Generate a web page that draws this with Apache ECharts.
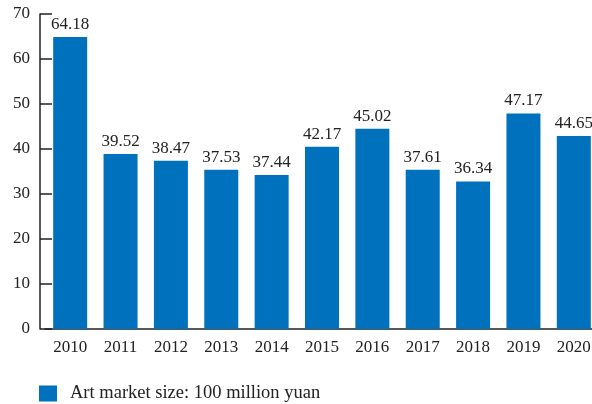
<!DOCTYPE html>
<html>
<head>
<meta charset="utf-8">
<script src="https://cdn.jsdelivr.net/npm/echarts@6/dist/echarts.min.js"></script>
<style>html,body{margin:0;padding:0;background:#fff;}#c{width:592px;height:404px;}</style>
</head>
<body>
<div id="c"></div>
<script>
// Categories (years)
var years = ['2010','2011','2012','2013','2014','2015','2016','2017','2018','2019','2020'];
var barHeights = [64.9, 38.9, 37.4, 35.4, 34.2, 40.5, 44.5, 35.4, 32.8, 47.9, 42.9];
// Value labels as printed above the bars
var valueLabels = ['64.18','39.52','38.47','37.53','37.44','42.17','45.02','37.61','36.34','47.17','44.65'];
var seriesName = 'Art market size: 100 million yuan';
var yTicks = [0, 10, 20, 30, 40, 50, 60, 70];

var font = 'Liberation Serif';
var chart = echarts.init(document.getElementById('c'), null, {renderer: 'canvas'});
chart.setOption({
  animation: false,
  backgroundColor: '#fff',
  grid: {left: 45, width: 554, top: 14, bottom: 75, containLabel: false, outerBoundsMode: 'none'},
  legend: {
    left: 39, top: 384, padding: 0,
    itemWidth: 18, itemHeight: 16,
    icon: 'rect',
    textStyle: {fontFamily: font, fontSize: 18.5, color: '#222', padding: [0,0,0,8]},
    data: [seriesName]
  },
  xAxis: {
    type: 'category',
    data: years,
    axisLine: {lineStyle: {color: '#222', width: 1.5}},
    axisTick: {show: false},
    axisLabel: {fontFamily: font, fontSize: 17, color: '#222', margin: 10}
  },
  yAxis: {
    type: 'value',
    min: yTicks[0], max: yTicks[yTicks.length - 1], interval: 10,
    offset: 5,
    splitLine: {show: false},
    axisLine: {show: true, lineStyle: {color: '#222', width: 1.5}},
    axisTick: {show: true, inside: true, length: 12, lineStyle: {color: '#222', width: 1.5}},
    axisLabel: {fontFamily: font, fontSize: 17, color: '#222', margin: 10}
  },
  series: [{
    name: seriesName,
    type: 'bar',
    data: barHeights,
    barWidth: 34,
    itemStyle: {color: '#0071bc'},
    label: {
      show: true, position: 'top', distance: 4,
      fontFamily: font, fontSize: 17, color: '#222',
      formatter: function (p) { return valueLabels[p.dataIndex]; }
    }
  }]
});
</script>
</body>
</html>
